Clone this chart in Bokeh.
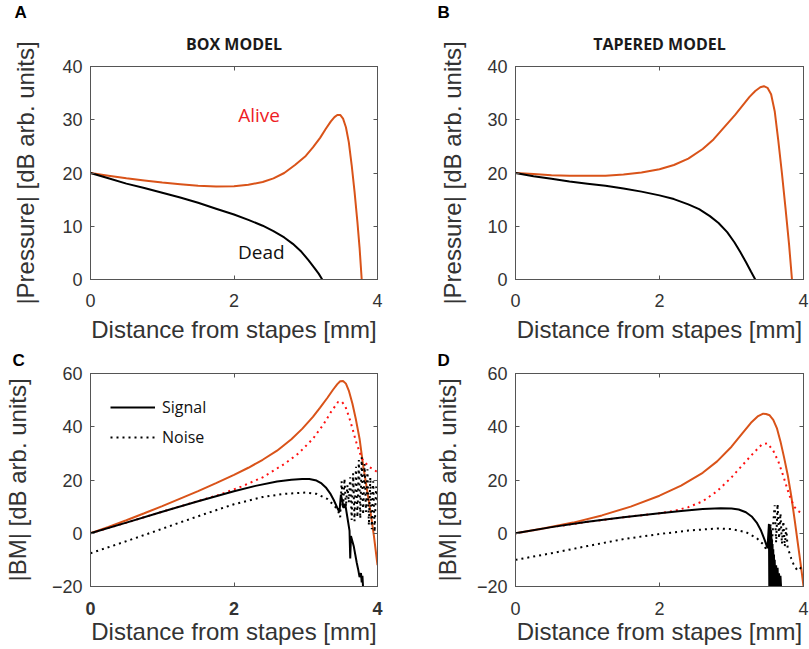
from bokeh.plotting import figure
from bokeh.layouts import gridplot
from bokeh.models import Range1d, LinearAxis, FixedTicker, Label, Legend, LegendItem, Title
from bokeh.embed import file_html
from bokeh.resources import INLINE

# ---------------- data ----------------
dist_ticks = [0, 2, 4]
pressure_ticks = [0, 10, 20, 30, 40]
bm_ticks = [-20, 0, 20, 40, 60]

# Box model, |Pressure|
box_alive_x = [0.0, 0.25, 0.5, 0.75, 1.0, 1.25, 1.5, 1.75, 2.0, 2.2, 2.4, 2.55, 2.7, 2.85, 3.0, 3.1, 3.2,
               3.28, 3.35, 3.4, 3.44, 3.48, 3.52, 3.56, 3.6, 3.64, 3.68, 3.72, 3.75, 3.78]
box_alive_y = [20.0, 19.5, 19.0, 18.6, 18.2, 17.9, 17.6, 17.45, 17.5, 17.8, 18.3, 19.0, 20.0, 21.5, 23.2, 24.8, 26.6,
               28.3, 29.7, 30.5, 30.9, 30.9, 30.2, 28.6, 25.8, 21.5, 16.5, 10.8, 6.0, 0.0]
box_dead_x = [0.0, 0.25, 0.5, 0.75, 1.0, 1.25, 1.5, 1.75, 2.0, 2.2, 2.4, 2.55, 2.7, 2.82, 2.94, 3.04, 3.12, 3.18, 3.23]
box_dead_y = [20.0, 19.0, 18.0, 17.2, 16.3, 15.4, 14.4, 13.3, 12.2, 11.2, 10.1, 9.1, 7.9, 6.7, 5.2, 3.6, 2.2, 1.1, 0.0]

# Tapered model, |Pressure|
tap_alive_x = [0.0, 0.25, 0.5, 0.75, 1.0, 1.25, 1.5, 1.75, 2.0, 2.2, 2.4, 2.6, 2.75, 2.9, 3.05, 3.15, 3.25,
               3.33, 3.4, 3.45, 3.5, 3.55, 3.6, 3.65, 3.7, 3.75, 3.8, 3.84]
tap_alive_y = [20.0, 19.8, 19.6, 19.5, 19.5, 19.5, 19.7, 20.1, 20.7, 21.5, 22.7, 24.5, 26.3, 28.6, 30.9, 32.6, 34.3,
               35.4, 36.1, 36.3, 36.0, 34.8, 31.6, 26.1, 20.0, 13.4, 6.5, 0.0]
tap_dead_x = [0.0, 0.25, 0.5, 0.75, 1.0, 1.25, 1.5, 1.75, 2.0, 2.2, 2.4, 2.55, 2.7, 2.82, 2.94, 3.04, 3.12,
              3.2, 3.27, 3.33]
tap_dead_y = [20.0, 19.4, 18.9, 18.4, 18.0, 17.6, 17.1, 16.5, 15.8, 15.1, 14.1, 13.2, 11.9, 10.6, 8.9, 7.0, 5.2,
              3.3, 1.5, 0.0]

# Box model, |BM|
box_sig_alive_x = [0.0, 0.25, 0.5, 0.75, 1.0, 1.25, 1.5, 1.75, 2.0, 2.2, 2.4, 2.6, 2.8, 2.95, 3.1, 3.2, 3.3,
                   3.38, 3.44, 3.48, 3.52, 3.56, 3.6, 3.65, 3.7, 3.75, 3.8, 3.85, 3.9, 3.95, 4.0]
box_sig_alive_y = [0.0, 2.4, 4.9, 7.5, 10.2, 13.0, 15.8, 18.8, 21.9, 24.6, 27.6, 31.0, 35.3, 39.2, 43.7, 47.2, 50.8,
                   53.9, 56.0, 57.1, 57.2, 56.2, 53.6, 48.7, 42.6, 35.5, 25.5, 17.0, 8.5, -1.0, -12.0]
box_noise_alive_x = [0.0, 0.5, 1.0, 1.5, 1.8, 2.1, 2.4, 2.7, 2.9, 3.1, 3.25, 3.35, 3.45, 3.5, 3.55, 3.6, 3.65,
                     3.7, 3.78, 3.88, 4.0]
box_noise_alive_y = [0.0, 4.0, 8.1, 12.1, 14.5, 17.5, 21.0, 26.0, 30.0, 35.5, 41.0, 45.5, 49.3, 49.5, 47.8, 44.0, 39.5,
                     34.5, 28.1, 25.0, 23.0]
box_sig_dead_x = [0.0, 0.5, 1.0, 1.5, 2.0, 2.3, 2.6, 2.8, 2.95, 3.05, 3.15, 3.22, 3.28, 3.34, 3.39, 3.44,
                  3.47, 3.49, 3.51, 3.53, 3.55, 3.58, 3.61, 3.62, 3.63, 3.65, 3.67, 3.69, 3.71, 3.73, 3.75,
                  3.77, 3.78, 3.79, 3.80, 3.81]
box_sig_dead_y = [0.0, 4.0, 8.1, 12.0, 15.8, 17.8, 19.4, 20.1, 20.4, 20.4, 19.8, 18.7, 17.2, 15.0, 12.5, 9.5,
                  8.0, 14.5, 12.0, 9.5, 11.0, 6.0, 1.0, -9.5, -1.0, -3.0, -5.0, -8.0, -11.0, -13.5, -16.5,
                  -15.0, -18.5, -16.0, -21.0, -21.0]
box_noise_dead_x = [0.0, 0.4, 0.8, 1.2, 1.6, 2.0, 2.4, 2.7, 3.0, 3.15, 3.3, 3.4,
                    3.45, 3.48, 3.50, 3.52, 3.54, 3.56, 3.58, 3.60, 3.62, 3.64, 3.66, 3.68, 3.70, 3.72,
                    3.74, 3.76, 3.78, 3.80, 3.82, 3.84, 3.86, 3.88, 3.90, 3.92, 3.94, 3.96, 3.98, 4.00]
box_noise_dead_y = [-7.5, -3.9, -0.2, 3.6, 7.3, 10.9, 13.6, 14.8, 15.3, 14.8, 12.9, 10.3,
                    8.5, 6.0, 19.5, 9.0, 20.5, 10.0, 18.0, 11.5, 21.0, 5.0, 22.5, 4.5, 25.0, 6.0,
                    27.5, 5.5, 28.5, 7.0, 26.0, 8.0, 24.0, 3.0, 21.0, 1.5, 19.5, 0.5, 17.5, 12.0]

# Tapered model, |BM|
tap_sig_alive_x = [0.0, 0.4, 0.8, 1.2, 1.6, 2.0, 2.3, 2.6, 2.8, 3.0, 3.15, 3.27, 3.37, 3.44, 3.48, 3.53,
                   3.58, 3.63, 3.68, 3.73, 3.78, 3.83, 3.88, 3.93, 3.97, 4.0]
tap_sig_alive_y = [0.0, 1.9, 4.0, 6.7, 10.0, 14.1, 17.9, 22.7, 27.0, 32.5, 37.5, 41.5, 44.0, 44.9, 44.8, 44.3,
                   42.6, 39.5, 34.5, 28.5, 22.0, 14.0, 4.5, -5.5, -13.5, -20.0]
tap_noise_alive_x = [0.0, 0.5, 1.0, 1.5, 2.0, 2.2, 2.4, 2.6, 2.8, 3.0, 3.15, 3.3, 3.42, 3.5, 3.58, 3.65,
                     3.72, 3.8, 3.87, 3.93, 4.0]
tap_noise_alive_y = [0.0, 2.3, 4.3, 6.0, 7.5, 8.4, 9.8, 12.0, 15.8, 21.0, 25.5, 30.0, 33.3, 33.8, 31.0, 27.0,
                     21.5, 14.5, 10.0, 8.2, 7.5]
tap_sig_dead_x = [0.0, 0.5, 1.0, 1.5, 2.0, 2.3, 2.6, 2.85, 3.0, 3.1, 3.2, 3.28, 3.35, 3.41, 3.46, 3.5,
                  3.52, 3.525, 3.53, 3.535, 3.54, 3.545, 3.55, 3.555, 3.56, 3.565, 3.57, 3.575, 3.58, 3.585,
                  3.59, 3.595, 3.60, 3.61, 3.62, 3.63, 3.64, 3.65, 3.66, 3.67, 3.68, 3.69, 3.70]
tap_sig_dead_y = [0.0, 2.3, 4.3, 6.0, 7.5, 8.4, 9.1, 9.4, 9.3, 8.9, 7.9, 6.3, 4.0, 1.0, -2.5, -5.6,
                  3.5, -21.0, 3.0, -21.0, 2.5, -21.0, 1.0, -21.0, -2.0, -21.0, -4.0, -21.0, -6.0, -21.0,
                  -8.0, -21.0, -10.0, -21.0, -12.0, -21.0, -13.0, -21.0, -15.0, -21.0, -16.0, -21.0, -21.0]
tap_noise_dead_x = [0.0, 0.5, 1.0, 1.5, 2.0, 2.4, 2.8, 3.0, 3.2, 3.35, 3.45,
                    3.48, 3.52, 3.54, 3.56, 3.58, 3.60, 3.62, 3.64, 3.66, 3.68, 3.70, 3.72, 3.74, 3.76,
                    3.78, 3.80, 3.83, 3.86, 3.89, 3.92, 3.95, 3.97, 3.99, 4.0]
tap_noise_dead_y = [-10.0, -7.5, -4.8, -2.2, -0.3, 1.0, 1.8, 1.6, 0.4, -1.8, -4.4,
                    -6.0, -5.5, 3.5, -4.5, 4.0, 10.5, -3.5, 11.0, -2.0, 7.5, -4.0, 4.5, -5.0, 2.0,
                    -5.5, -7.0, -9.5, -11.5, -13.0, -14.0, -13.5, -12.5, -13.0, -13.0]

# ---------------- style ----------------
ORANGE = "#D95319"
RED = "#FF1010"
AXIS_GREY = "#555555"
TEXT_GREY = "#333333"
SANS = "Liberation Sans"
ANNOT = "Open Sans"
DOT = "2 4"


def make_panel(width, height, borders, y_range, yticks, ylabel, ylabel_standoff,
               xtick_standoff, xlabel_standoff, xtick_bold=False):
    left, right, top, bottom = borders
    p = figure(width=width, height=height, output_backend="svg", toolbar_location=None,
               title=None, x_range=Range1d(0, 4), y_range=Range1d(*y_range),
               x_axis_location=None, y_axis_location=None,
               min_border_left=left, min_border_right=right,
               min_border_top=top, min_border_bottom=bottom)
    p.grid.visible = False
    p.outline_line_color = AXIS_GREY
    common = dict(axis_line_color=AXIS_GREY, axis_line_width=1,
                  major_tick_line_color=AXIS_GREY, major_tick_in=4, major_tick_out=0,
                  minor_tick_line_color=None,
                  major_label_text_font=SANS, major_label_text_color=TEXT_GREY,
                  axis_label_text_font=SANS, axis_label_text_color=TEXT_GREY,
                  axis_label_text_font_style="normal", axis_label_text_font_size="24px")
    xaxis = LinearAxis(ticker=FixedTicker(ticks=dist_ticks), axis_label="Distance from stapes [mm]",
                       major_label_text_font_size="18px", major_label_standoff=xtick_standoff,
                       axis_label_standoff=xlabel_standoff,
                       major_label_text_font_style="bold" if xtick_bold else "normal", **common)
    yaxis = LinearAxis(ticker=FixedTicker(ticks=yticks), axis_label=ylabel,
                       major_label_text_font_size="18px", major_label_standoff=8,
                       axis_label_standoff=ylabel_standoff, **common)
    p.add_layout(xaxis, "below")
    p.add_layout(yaxis, "left")
    # inward ticks on the top and right edges of the box, without labels
    bare = dict(common, major_label_text_font_size="1px", major_label_text_color=None,
                major_label_standoff=0)
    p.add_layout(LinearAxis(ticker=FixedTicker(ticks=dist_ticks), **bare), "above")
    p.add_layout(LinearAxis(ticker=FixedTicker(ticks=yticks), **bare), "right")
    return p


def add_heading(p, text, font, align, offset, standoff, color="black", size="16px"):
    p.add_layout(Title(text=text, align=align, offset=offset, standoff=standoff,
                       text_font=font, text_font_style="bold", text_font_size=size,
                       text_color=color), "above")


# ---- A: box model pressure ----
pa = make_panel(404, 345, (88, 27, 66, 66), (0, 40), pressure_ticks,
                "|Pressure| [dB arb. units]", 20, 14, 6)
pa.line(box_alive_x, box_alive_y, line_color=ORANGE, line_width=2)
pa.line(box_dead_x, box_dead_y, line_color="black", line_width=2)
pa.add_layout(Label(x=2.35, y=30.8, text="Alive", text_font=ANNOT, text_font_size="19px",
                    text_color="#EE1C25", text_align="center", text_baseline="middle"))
pa.add_layout(Label(x=2.38, y=5.1, text="Dead", text_font=ANNOT, text_font_size="19px",
                    text_color="#111111", text_align="center", text_baseline="middle"))
add_heading(pa, "BOX MODEL", ANNOT, "center", 0, 23, "#1a1a1a")
add_heading(pa, "A", SANS, "left", -76, -5, size="17px")

# ---- B: tapered model pressure ----
pb = make_panel(405, 345, (111, 6, 66, 66), (0, 40), pressure_ticks,
                "|Pressure| [dB arb. units]", 18, 14, 6)
pb.line(tap_alive_x, tap_alive_y, line_color=ORANGE, line_width=2)
pb.line(tap_dead_x, tap_dead_y, line_color="black", line_width=2)
add_heading(pb, "TAPERED MODEL", ANNOT, "center", 0, 23, "#1a1a1a")
add_heading(pb, "B", SANS, "left", -78, -5, size="17px")

# ---- C: box model BM ----
pc = make_panel(404, 304, (88, 27, 28, 63), (-20, 60), bm_ticks,
                "|BM| [dB arb. units]", 18, 15, 0, xtick_bold=True)
pc.line(box_sig_alive_x, box_sig_alive_y, line_color=ORANGE, line_width=2)
pc.line(box_noise_alive_x, box_noise_alive_y, line_color=RED, line_width=2, line_dash=DOT)
sig_c = pc.line(box_sig_dead_x, box_sig_dead_y, line_color="black", line_width=2)
noise_c = pc.line(box_noise_dead_x, box_noise_dead_y, line_color="black", line_width=2, line_dash=DOT)
legend = Legend(items=[LegendItem(label="Signal", renderers=[sig_c]),
                       LegendItem(label="Noise", renderers=[noise_c])],
                location=(20, 138), padding=0, margin=0, spacing=8,
                glyph_width=45, glyph_height=20, label_height=20, label_standoff=7,
                label_text_font=ANNOT, label_text_font_size="16px", label_text_color="#111111",
                border_line_color=None, background_fill_alpha=0)
pc.add_layout(legend)
add_heading(pc, "C", SANS, "left", -78, 7, size="17px")

# ---- D: tapered model BM ----
pd = make_panel(405, 304, (111, 6, 28, 63), (-20, 60), bm_ticks,
                "|BM| [dB arb. units]", 13, 15, 0)
pd.line(tap_sig_alive_x, tap_sig_alive_y, line_color=ORANGE, line_width=2)
pd.line(tap_noise_alive_x, tap_noise_alive_y, line_color=RED, line_width=2, line_dash=DOT)
pd.line(tap_sig_dead_x, tap_sig_dead_y, line_color="black", line_width=2)
pd.line(tap_noise_dead_x, tap_noise_dead_y, line_color="black", line_width=2, line_dash=DOT)
add_heading(pd, "D", SANS, "left", -78, 7, size="17px")

grid = gridplot([[pa, pb], [pc, pd]], toolbar_location=None)

open("out.html", "w").write(file_html(grid, INLINE))
